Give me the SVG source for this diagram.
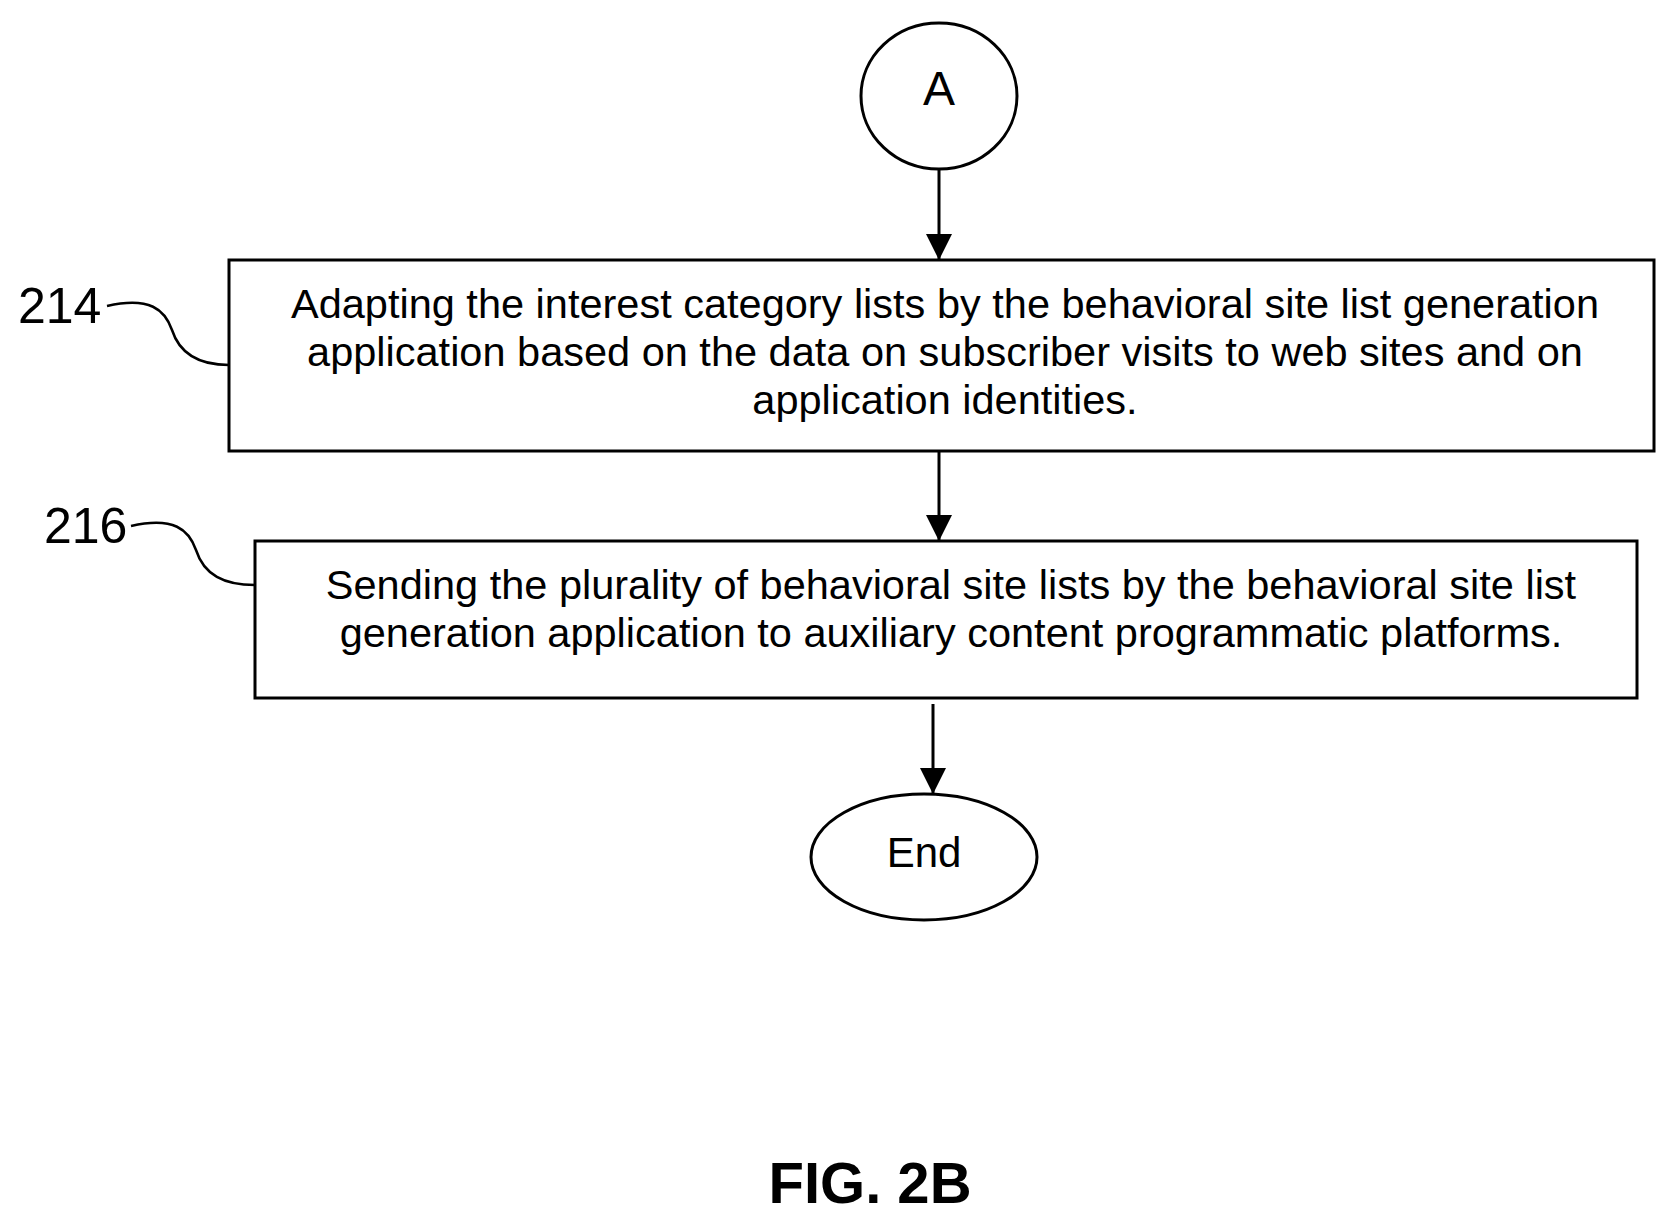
<svg xmlns="http://www.w3.org/2000/svg" width="1676" height="1217" viewBox="0 0 1676 1217">
<style>
.s{fill:none;stroke:#000;stroke-width:3}
.t{font-family:"Liberation Sans",Arial,sans-serif;font-size:41.5px;text-anchor:middle;dominant-baseline:central;fill:#000}
.l{font-family:"Liberation Sans",Arial,sans-serif;font-size:50px;dominant-baseline:central;fill:#000}
</style>
<defs><marker id="b" viewBox="0 0 10 10" refX="10" refY="5" markerWidth="26" markerHeight="26" orient="auto" markerUnits="userSpaceOnUse"><path d="M0,0 L10,5 L0,10 Z"/></marker></defs>
<rect width="1676" height="1217" fill="#fff"/>
<g id="nodeA"><ellipse class="s" cx="939" cy="96" rx="78" ry="73"/><text class="t" x="939" y="88" style="font-size:48px">A</text></g>
<g id="n214"><rect class="s" x="229" y="260" width="1425" height="191"/>
<text class="t" x="945" y="303">Adapting the interest category lists by the behavioral site list generation</text>
<text class="t" x="945" y="351">application based on the data on subscriber visits to web sites and on</text>
<text class="t" x="945" y="399">application identities.</text>
<text class="l" x="18" y="306">214</text></g>
<g id="n216"><rect class="s" x="255" y="541" width="1382" height="157"/>
<text class="t" x="951" y="584">Sending the plurality of behavioral site lists by the behavioral site list</text>
<text class="t" x="951" y="632">generation application to auxiliary content programmatic platforms.</text>
<text class="l" x="44" y="526">216</text></g>
<g id="end"><ellipse class="s" cx="924" cy="857" rx="113" ry="63"/><text class="t" x="924" y="852" style="font-size:42px">End</text></g>
<g id="connectors">
<line class="s" x1="939" y1="170" x2="939" y2="260" marker-end="url(#b)"/>
<line class="s" x1="939" y1="451" x2="939" y2="541" marker-end="url(#b)"/>
<line class="s" x1="933" y1="704" x2="933" y2="794" marker-end="url(#b)"/>
<path class="s" d="M107,306 C150,296 165,310 172,330 C180,355 200,365 229,365" style="stroke-width:2.5"/>
<path class="s" d="M131,526 C174,516 189,530 196,550 C204,575 224,585 255,585" style="stroke-width:2.5"/>
</g>
<text x="870" y="1182" style="font-family:'Liberation Sans',Arial,sans-serif;font-size:58px;font-weight:bold;text-anchor:middle;dominant-baseline:central">FIG. 2B</text>
</svg>
